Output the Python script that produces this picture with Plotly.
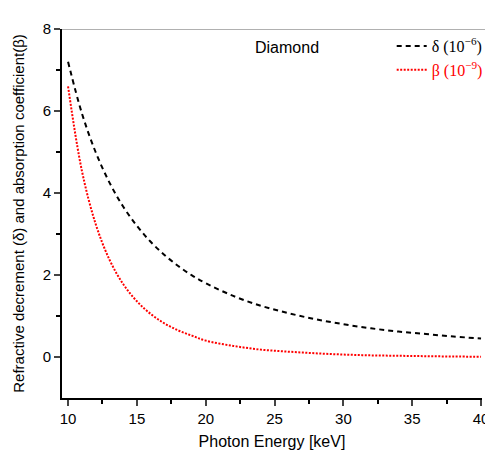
import plotly.graph_objects as go

energy = [10, 11, 12, 13, 14, 15, 16, 17, 18, 19, 20, 22, 24, 26, 28, 30, 32, 34, 36, 38, 40]
delta = [7.20, 5.95, 5.00, 4.26, 3.67, 3.20, 2.81, 2.49, 2.22, 1.99, 1.80, 1.49, 1.25, 1.07, 0.92,
         0.80, 0.70, 0.62, 0.56, 0.50, 0.45]
beta = [6.60, 4.55, 3.25, 2.38, 1.78, 1.36, 1.05, 0.82, 0.65, 0.52, 0.40, 0.27, 0.18, 0.13, 0.09,
        0.06, 0.04, 0.03, 0.02, 0.012, 0.006]

fig = go.Figure()
fig.add_trace(go.Scatter(
    x=energy, y=delta, mode="lines", line=dict(color="black", width=2, dash="5px,4px", shape="spline"),
    name="δ (10<sup>−6</sup>)"))
fig.add_trace(go.Scatter(
    x=energy, y=beta, mode="lines", line=dict(color="red", width=2, dash="2px,1.5px", shape="spline"),
    name="<span style='color:red'>β (10<sup>−9</sup>)</span>"))

fig.add_annotation(x=0.536, y=0.951, xref="paper", yref="paper", text="Diamond", showarrow=False,
                   yanchor="middle", font=dict(family="Liberation Sans, Arial", size=16, color="black"))
fig.add_shape(type="line", xref="paper", yref="y", x0=0, x1=1.01, y0=8, y1=8,
              line=dict(color="#b0b0b0", width=2))

fig.update_layout(
    width=485, height=457,
    margin=dict(l=62, r=3, t=29, b=59, autoexpand=False),
    paper_bgcolor="white", plot_bgcolor="white",
    font=dict(family="Liberation Sans, Arial", size=15, color="black"),
    showlegend=True,
    legend=dict(x=0.785, y=1.0, xanchor="left", yanchor="top", bgcolor="rgba(0,0,0,0)",
                font=dict(family="Liberation Serif, Times New Roman", size=16, color="black"),
                itemwidth=30, tracegroupgap=0),
    xaxis=dict(range=[9.56, 40.07], tickvals=[10, 15, 20, 25, 30, 35, 40], showgrid=False, zeroline=False,
               automargin=False, ticklabeloverflow="allow",
               showline=True, linecolor="black", linewidth=2, ticks="outside", ticklen=6, tickwidth=1.5,
               minor=dict(tickvals=[12.5, 17.5, 22.5, 27.5, 32.5, 37.5], ticks="outside", ticklen=4,
                          tickcolor="black", tickwidth=1.5),
               title=dict(text="Photon Energy [keV]", font=dict(size=16), standoff=10)),
    yaxis=dict(range=[-1, 8], tickvals=[0, 2, 4, 6, 8], showgrid=False, zeroline=False,
               automargin=False, ticklabeloverflow="allow",
               showline=True, linecolor="black", linewidth=2, ticks="outside", ticklen=6, tickwidth=1.5,
               minor=dict(tickvals=[1, 3, 5, 7], ticks="outside", ticklen=4, tickcolor="black", tickwidth=1.5),
               title=dict(text="Refractive decrement (δ) and absorption coefficient(β)", font=dict(size=15),
                          standoff=14)),
)

fig.write_html("out.html", config={"displayModeBar": False},
               post_script="document.body.style.margin='0';document.body.style.overflow='hidden';")
